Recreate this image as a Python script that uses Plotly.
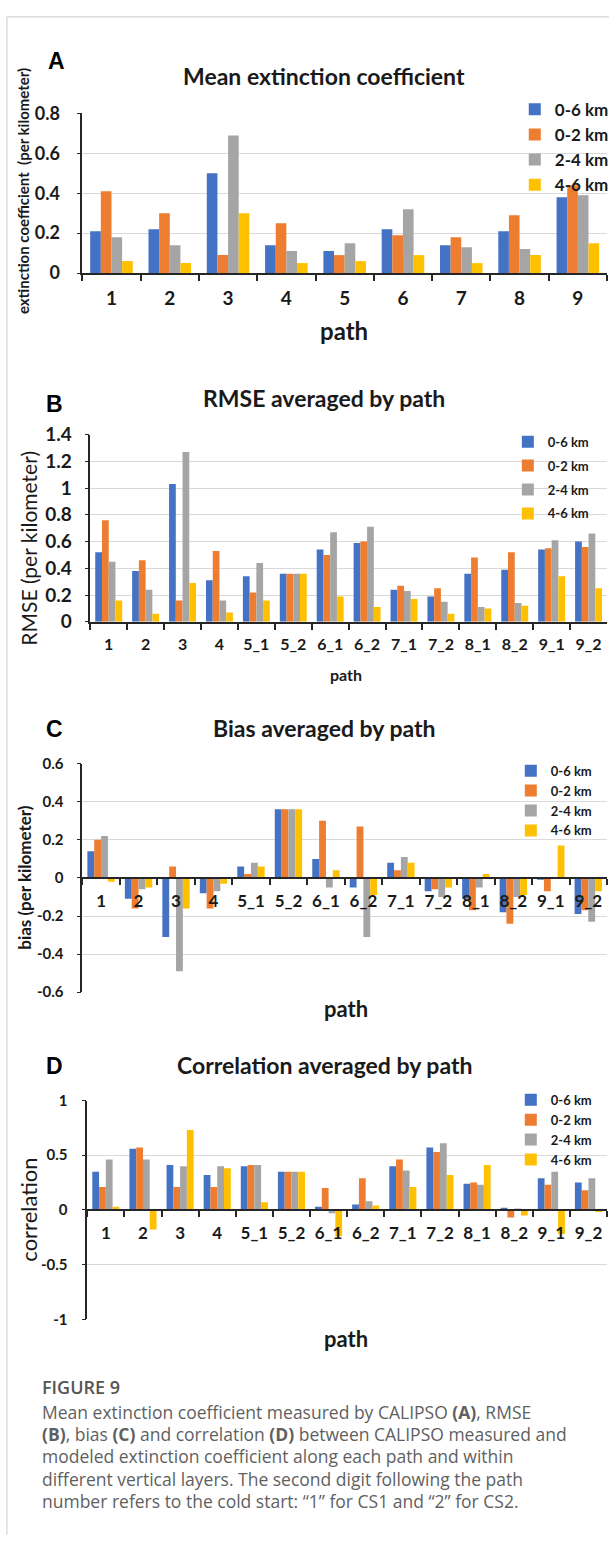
import plotly.graph_objects as go

W, H = 614, 1546

# ---------------- data ----------------
series_names = ["0-6 km", "0-2 km", "2-4 km", "4-6 km"]
series_colors = ["#4472C4", "#ED7D31", "#A5A5A5", "#FFC000"]

paths_a = ["1", "2", "3", "4", "5", "6", "7", "8", "9"]
paths_bcd = ["1", "2", "3", "4", "5_1", "5_2", "6_1", "6_2", "7_1", "7_2", "8_1", "8_2", "9_1", "9_2"]

# A: Mean extinction coefficient
ext_0_6 = [0.21, 0.22, 0.50, 0.14, 0.11, 0.22, 0.14, 0.21, 0.38]
ext_0_2 = [0.41, 0.30, 0.09, 0.25, 0.09, 0.19, 0.18, 0.29, 0.44]
ext_2_4 = [0.18, 0.14, 0.69, 0.11, 0.15, 0.32, 0.13, 0.12, 0.39]
ext_4_6 = [0.06, 0.05, 0.30, 0.05, 0.06, 0.09, 0.05, 0.09, 0.15]

# B: RMSE
rmse_0_6 = [0.52, 0.38, 1.03, 0.31, 0.34, 0.36, 0.54, 0.59, 0.24, 0.19, 0.36, 0.39, 0.54, 0.60]
rmse_0_2 = [0.76, 0.46, 0.16, 0.53, 0.22, 0.36, 0.50, 0.60, 0.27, 0.25, 0.48, 0.52, 0.55, 0.56]
rmse_2_4 = [0.45, 0.24, 1.27, 0.16, 0.44, 0.36, 0.67, 0.71, 0.23, 0.15, 0.11, 0.14, 0.61, 0.66]
rmse_4_6 = [0.16, 0.06, 0.29, 0.07, 0.16, 0.36, 0.19, 0.11, 0.17, 0.06, 0.10, 0.12, 0.34, 0.25]

# C: Bias
bias_0_6 = [0.14, -0.11, -0.31, -0.08, 0.06, 0.36, 0.10, -0.05, 0.08, -0.07, -0.11, -0.18, -0.01, -0.19]
bias_0_2 = [0.20, -0.16, 0.06, -0.16, 0.02, 0.36, 0.30, 0.27, 0.04, -0.06, -0.17, -0.24, -0.07, -0.17]
bias_2_4 = [0.22, -0.06, -0.49, -0.07, 0.08, 0.36, -0.05, -0.31, 0.11, -0.10, -0.05, -0.10, 0.00, -0.23]
bias_4_6 = [-0.02, -0.05, -0.16, -0.03, 0.06, 0.36, 0.04, -0.09, 0.08, -0.05, 0.02, -0.09, 0.17, -0.07]

# D: Correlation
corr_0_6 = [0.35, 0.56, 0.41, 0.32, 0.40, 0.35, 0.03, 0.05, 0.40, 0.57, 0.24, 0.02, 0.29, 0.25]
corr_0_2 = [0.21, 0.57, 0.21, 0.21, 0.41, 0.35, 0.20, 0.29, 0.46, 0.53, 0.25, -0.07, 0.23, 0.18]
corr_2_4 = [0.46, 0.46, 0.40, 0.40, 0.41, 0.35, -0.03, 0.08, 0.36, 0.61, 0.23, 0.01, 0.35, 0.29]
corr_4_6 = [0.03, -0.18, 0.73, 0.38, 0.07, 0.35, -0.24, 0.04, 0.21, 0.32, 0.41, -0.05, -0.22, -0.02]

panel_titles = ["Mean extinction coefficient", "RMSE averaged by path",
                "Bias averaged by path", "Correlation averaged by path"]
panel_letters = ["A", "B", "C", "D"]
y_titles = ["extinction coefficient  (per kilometer)", "RMSE (per kilometer)",
            "bias (per kilometer)", "correlation"]

caption_head = "FIGURE 9"
caption_lines = [
    "Mean extinction coefficient measured by CALIPSO <b>(A)</b>, RMSE",
    "<b>(B)</b>, bias <b>(C)</b> and correlation <b>(D)</b> between CALIPSO measured and",
    "modeled extinction coefficient along each path and within",
    "different vertical layers. The second digit following the path",
    "number refers to the cold start: \u201c1\u201d for CS1 and \u201c2\u201d for CS2.",
]

# ---------------- helpers ----------------
def px_x(v):
    return v / W

def px_y(v):
    return 1 - v / H

FONT = "Lato"
AX = "#262626"
GRID = "#D9D9D9"

fig = go.Figure()

panels = [
    ("A", paths_a, [ext_0_6, ext_0_2, ext_2_4, ext_4_6], "x", "y", "legend"),
    ("B", paths_bcd, [rmse_0_6, rmse_0_2, rmse_2_4, rmse_4_6], "x2", "y2", "legend2"),
    ("C", paths_bcd, [bias_0_6, bias_0_2, bias_2_4, bias_4_6], "x3", "y3", "legend3"),
    ("D", paths_bcd, [corr_0_6, corr_0_2, corr_2_4, corr_4_6], "x4", "y4", "legend4"),
]

for tag, cats, vals, xa, ya, lg in panels:
    for k, (name, color, v) in enumerate(zip(series_names, series_colors, vals)):
        fig.add_trace(go.Bar(x=cats, y=v, name=name, marker=dict(color=color, line=dict(width=0)),
                             xaxis=xa, yaxis=ya, legend=lg, legendgroup=f"{tag}{k}",
                             showlegend=True))

# plot areas in pixels: (left, right, top, bottom)
areas = [(83, 612, 103, 265), (91, 612, 429, 619), (83, 612, 763, 995), (88, 612, 1105, 1327)]

def xaxis_cfg(area, anchor, font_size, free_pos=None, standoff=6):
    l, r, t, b = area
    d = dict(domain=[px_x(l), px_x(r)], type="category", showgrid=False,
             showline=True, linecolor=AX, linewidth=1.5,
             ticks="outside", tickson="boundaries", ticklen=6, tickcolor=AX, tickwidth=1.5,
             tickangle=0,
             tickfont=dict(family=FONT, size=font_size, color="#1a1a1a", weight="bold"),
             ticklabelstandoff=standoff)
    if free_pos is None:
        d["anchor"] = anchor
    else:
        d["anchor"] = "free"
        d["position"] = free_pos
    return d

def yaxis_cfg(area, anchor, rng, font_size, tickvals, ticktext, standoff):
    l, r, t, b = area
    return dict(domain=[px_y(b), px_y(t)], anchor=anchor, range=rng,
                tickmode="array", tickvals=tickvals, ticktext=ticktext,
                showline=True, linecolor=AX, linewidth=1.5, zeroline=False,
                showgrid=True, gridcolor=GRID, gridwidth=1,
                ticks="outside", ticklen=4, tickcolor=AX,
                tickfont=dict(family=FONT, size=font_size, color="#1a1a1a", weight="bold"),
                ticklabelstandoff=standoff)

layout = dict(
    width=W, height=H, margin=dict(l=0, r=0, t=0, b=0),
    paper_bgcolor="white", plot_bgcolor="white",
    barmode="group", bargap=0.27, bargroupgap=0,
    showlegend=True,
)

ticks_a = [0, 0.2, 0.4, 0.6, 0.8]
ticks_b = [0, 0.2, 0.4, 0.6, 0.8, 1.0, 1.2, 1.4]
ticks_c = [-0.6, -0.4, -0.2, 0, 0.2, 0.4, 0.6]
ticks_d = [-1, -0.5, 0, 0.5, 1]
fmt = lambda v: ("%g" % v)

layout["xaxis"] = xaxis_cfg(areas[0], "y", 19, standoff=7)
layout["yaxis"] = yaxis_cfg(areas[0], "x", [0, 0.8], 18, ticks_a, [fmt(v) for v in ticks_a], 13)
layout["xaxis2"] = xaxis_cfg(areas[1], "y2", 16, standoff=7)
layout["yaxis2"] = yaxis_cfg(areas[1], "x2", [0, 1.4], 19, ticks_b, [fmt(v) for v in ticks_b], 9)
mid3 = (px_y(areas[2][2]) + px_y(areas[2][3])) / 2
layout["xaxis3"] = xaxis_cfg(areas[2], "y3", 17, free_pos=mid3, standoff=8)
layout["yaxis3"] = yaxis_cfg(areas[2], "x3", [-0.6, 0.6], 15, ticks_c, [fmt(v) for v in ticks_c], 10)
mid4 = (px_y(areas[3][2]) + px_y(areas[3][3])) / 2
layout["xaxis4"] = xaxis_cfg(areas[3], "y4", 17, free_pos=mid4, standoff=8)
layout["yaxis4"] = yaxis_cfg(areas[3], "x4", [-1, 1], 15, ticks_d, [fmt(v) for v in ticks_d], 11)

# legends: (left px, top px, font size, group gap)
leg_specs = [(519, 81, 17, 0), (512, 421, 13, 4), (515, 755, 13, 0), (515, 1089, 13, 0)]
for i, (lx, ly, fs, gap) in enumerate(leg_specs):
    key = "legend" if i == 0 else f"legend{i+1}"
    layout[key] = dict(x=px_x(lx), y=px_y(ly), xanchor="left", yanchor="top",
                       bgcolor="rgba(0,0,0,0)", borderwidth=0,
                       font=dict(family=FONT, size=fs, color="#1a1a1a", weight="bold"),
                       itemwidth=30, tracegroupgap=gap)

fig.update_layout(**layout)

ann = []
letter_pos = [(57, 50), (55, 398), (55, 728), (55, 1070)]
title_pos = [(327, 65), (327, 392), (327, 727), (327, 1069)]
for (lx, ly), (tx, ty), letter, title in zip(letter_pos, title_pos, panel_letters, panel_titles):
    ann.append(dict(x=px_x(lx), y=px_y(ly), xref="paper", yref="paper", text=letter, showarrow=False,
                    font=dict(family="Liberation Sans", size=23, color="black", weight="bold"),
                    xanchor="center", yanchor="middle"))
    ann.append(dict(x=px_x(tx), y=px_y(ty), xref="paper", yref="paper", text=title, showarrow=False,
                    font=dict(family=FONT, size=23, color="#1a1a1a", weight="bold"),
                    xanchor="center", yanchor="middle"))

ytitle_specs = [(23, 182, 15, "bold"), (29, 544, 21, "normal"), (25, 878, 17, "bold"), (29, 1216, 22, "normal")]
for (yx, yy, fs, wt), t in zip(ytitle_specs, y_titles):
    ann.append(dict(x=px_x(yx), y=px_y(yy), xref="paper", yref="paper", text=t, showarrow=False,
                    textangle=-90, font=dict(family=FONT, size=fs, color="#1a1a1a", weight=wt),
                    xanchor="center", yanchor="middle"))

xtitle_specs = [(347, 323, 24), (349, 672, 16), (349, 1012, 22), (349, 1347, 22)]
for xx, xy, fs in xtitle_specs:
    ann.append(dict(x=px_x(xx), y=px_y(xy), xref="paper", yref="paper", text="path", showarrow=False,
                    font=dict(family=FONT, size=fs, color="#1a1a1a", weight="bold"),
                    xanchor="center", yanchor="middle"))

ann.append(dict(x=px_x(40), y=px_y(1396), xref="paper", yref="paper", text=caption_head, showarrow=False,
                font=dict(family="Open Sans", size=18, color="#555555", weight=600),
                xanchor="left", yanchor="middle"))
for i, line in enumerate(caption_lines):
    ann.append(dict(x=px_x(40), y=px_y(1421 + 22.6 * i), xref="paper", yref="paper", text=line,
                    showarrow=False, font=dict(family="Open Sans", size=17.5, color="#5f5f5f"),
                    xanchor="left", yanchor="middle", align="left"))

fig.update_layout(annotations=ann)

fig.update_layout(shapes=[
    dict(type="line", xref="paper", yref="paper", x0=px_x(7), x1=px_x(7), y0=0, y1=px_y(5),
         line=dict(color="#CCCCCC", width=1)),
    dict(type="line", xref="paper", yref="paper", x0=px_x(7), x1=1, y0=px_y(5), y1=px_y(5),
         line=dict(color="#CCCCCC", width=1)),
])

fig.write_html("out.html")
